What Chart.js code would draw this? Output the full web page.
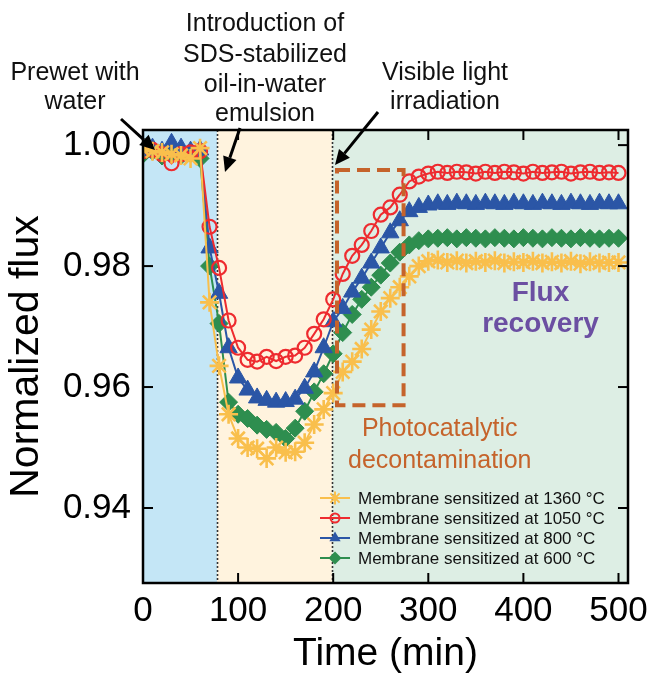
<!DOCTYPE html>
<html><head><meta charset="utf-8">
<script src="https://cdn.jsdelivr.net/npm/chart.js@4.4.0/dist/chart.umd.min.js"></script>
<style>html,body{margin:0;padding:0;background:#fff;}</style>
</head><body>
<canvas id="c" width="660" height="692"></canvas>
<script>
// ---------- data ----------
const times = [0,10,20,30,40,50,60,70,80,90,100,110,120,130,140,150,160,170,180,190,200,210,220,230,240,250,260,270,280,290,300,310,320,330,340,350,360,370,380,390,400,410,420,430,440,450,460,470,480,490,500];
const flux1360 = [0.9993,0.9990,0.9988,0.9985,0.9983,0.9978,0.9995,0.9740,0.9635,0.9555,0.9515,0.9500,0.9498,0.9482,0.9500,0.9492,0.9493,0.9508,0.9538,0.9563,0.9590,0.9625,0.9642,0.9663,0.9695,0.9725,0.9747,0.9765,0.9783,0.9800,0.9808,0.9810,0.9806,0.9809,0.9805,0.9808,0.9806,0.9809,0.9805,0.9807,0.9806,0.9808,0.9805,0.9807,0.9805,0.9808,0.9804,0.9807,0.9805,0.9806,0.9806];
const flux1050 = [0.9990,0.9992,0.9985,0.9970,0.9985,0.9988,0.9990,0.9865,0.9797,0.9710,0.9665,0.9645,0.9642,0.9650,0.9643,0.9650,0.9652,0.9665,0.9688,0.9712,0.9745,0.9787,0.9817,0.9835,0.9858,0.9885,0.9897,0.9918,0.9940,0.9948,0.9953,0.9956,0.9954,0.9956,0.9955,0.9953,0.9956,0.9954,0.9956,0.9955,0.9953,0.9956,0.9954,0.9955,0.9956,0.9953,0.9955,0.9956,0.9954,0.9955,0.9954];
const flux800 = [0.9990,0.9995,0.9990,1.0003,0.9995,0.9990,0.9992,0.9830,0.9755,0.9665,0.9615,0.9595,0.9582,0.9578,0.9575,0.9576,0.9580,0.9598,0.9625,0.9665,0.9708,0.9730,0.9757,0.9780,0.9805,0.9830,0.9855,0.9875,0.9890,0.9897,0.9901,0.9903,0.9902,0.9904,0.9903,0.9902,0.9904,0.9903,0.9902,0.9904,0.9903,0.9902,0.9904,0.9903,0.9902,0.9904,0.9903,0.9902,0.9904,0.9903,0.9903];
const flux600 = [0.9985,0.9990,0.9982,0.9988,0.9983,0.9986,0.9978,0.9800,0.9705,0.9575,0.9555,0.9548,0.9537,0.9530,0.9525,0.9515,0.9532,0.9560,0.9592,0.9622,0.9655,0.9690,0.9720,0.9745,0.9765,0.9785,0.9805,0.9823,0.9835,0.9842,0.9845,0.9846,0.9847,0.9845,0.9847,0.9846,0.9845,0.9847,0.9846,0.9845,0.9847,0.9846,0.9845,0.9847,0.9846,0.9845,0.9847,0.9846,0.9845,0.9846,0.9846];
const seriesLabels = ['Membrane sensitized at 1360 °C','Membrane sensitized at 1050 °C','Membrane sensitized at 800 °C','Membrane sensitized at 600 °C'];
const xTickValues = [0,100,200,300,400,500];
const yTickValues = [0.94,0.96,0.98,1.00];
const phaseBounds = [0,78,199,510];   // prewet | emulsion | light
const boxX = [204,274];                 // photocatalytic decontamination window
const boxY = [0.9570,0.9959];

// ---------- styles ----------
const FONT = '"Liberation Sans", Arial, Helvetica, sans-serif';
const colors = ['#F9BF4C','#EE2B2F','#2B56A6','#2E8E4F'];
const styles = [
  {pointStyle:'star', radius:9.5, fill:false, bw:2.6},
  {pointStyle:'circle', radius:7, fill:false, bw:2.2},
  {pointStyle:'triangle', radius:10, fill:true, bw:1},
  {pointStyle:'rectRot', radius:9, fill:true, bw:1}
];
const phaseColors = ['#C4E6F6','#FFF3DE','#DDEEE4'];

const allSeries = [flux1360, flux1050, flux800, flux600];
const datasets = allSeries.map((s,i)=>({
  label: seriesLabels[i],
  data: times.map((t,k)=>({x:t,y:s[k]})),
  borderColor: colors[i],
  backgroundColor: styles[i].fill ? colors[i] : 'rgba(0,0,0,0)',
  pointBorderColor: colors[i],
  pointBackgroundColor: styles[i].fill ? colors[i] : 'rgba(0,0,0,0)',
  pointStyle: styles[i].pointStyle,
  pointRadius: styles[i].radius,
  pointBorderWidth: styles[i].bw,
  borderWidth: 2,
  tension: 0,
  fill: false
}));

function drawMarker(ctx, style, x, y, r, color, bw){
  ctx.save();
  ctx.strokeStyle = color; ctx.fillStyle = color; ctx.lineWidth = bw;
  ctx.beginPath();
  if(style==='circle'){ ctx.arc(x,y,r,0,Math.PI*2); ctx.stroke(); }
  else if(style==='triangle'){
    ctx.moveTo(x, y-r); ctx.lineTo(x+r*0.866, y+r*0.5); ctx.lineTo(x-r*0.866, y+r*0.5); ctx.closePath(); ctx.fill();
  } else if(style==='rectRot'){
    ctx.moveTo(x,y-r); ctx.lineTo(x+r,y); ctx.lineTo(x,y+r); ctx.lineTo(x-r,y); ctx.closePath(); ctx.fill();
  } else if(style==='star'){
    for(let a=0;a<4;a++){ const ang=a*Math.PI/4; ctx.moveTo(x-Math.cos(ang)*r,y-Math.sin(ang)*r); ctx.lineTo(x+Math.cos(ang)*r,y+Math.sin(ang)*r);} ctx.stroke();
  }
  ctx.restore();
}

function arrow(ctx, x0,y0,x1,y1){
  const ang = Math.atan2(y1-y0,x1-x0), hl=15, hw=7;
  const bx = x1 - Math.cos(ang)*hl, by = y1 - Math.sin(ang)*hl;
  ctx.save();
  ctx.strokeStyle='#000'; ctx.fillStyle='#000'; ctx.lineWidth=3;
  ctx.beginPath(); ctx.moveTo(x0,y0); ctx.lineTo(bx,by); ctx.stroke();
  ctx.beginPath(); ctx.moveTo(x1,y1);
  ctx.lineTo(bx - Math.sin(ang)*hw, by + Math.cos(ang)*hw);
  ctx.lineTo(bx + Math.sin(ang)*hw, by - Math.cos(ang)*hw);
  ctx.closePath(); ctx.fill();
  ctx.restore();
}

const decor = {
  id:'decor',
  beforeDatasetsDraw(chart){
    const {ctx, chartArea:a, scales:{x,y}} = chart;
    ctx.save();
    for(let i=0;i<3;i++){
      const x0=x.getPixelForValue(phaseBounds[i]), x1=x.getPixelForValue(phaseBounds[i+1]);
      ctx.fillStyle=phaseColors[i]; ctx.fillRect(x0,a.top,x1-x0,a.bottom-a.top);
    }
    ctx.strokeStyle='#333'; ctx.lineWidth=1.6; ctx.setLineDash([2,2]);
    [phaseBounds[1],phaseBounds[2]].forEach(v=>{
      const px=Math.round(x.getPixelForValue(v))+0.5;
      ctx.beginPath(); ctx.moveTo(px,a.top); ctx.lineTo(px,a.bottom); ctx.stroke();
    });
    ctx.setLineDash([]);
    // inside texts
    ctx.textAlign='center'; ctx.textBaseline='middle';
    ctx.fillStyle='#C5632B'; ctx.font='25px '+FONT;
    ctx.fillText('Photocatalytic', x.getPixelForValue(312), y.getPixelForValue(0.9530));
    ctx.fillText('decontamination', x.getPixelForValue(312), y.getPixelForValue(0.9477));
    ctx.fillStyle='#6B4FA2'; ctx.font='bold 28px '+FONT;
    ctx.fillText('Flux', x.getPixelForValue(418), y.getPixelForValue(0.9755));
    ctx.fillText('recovery', x.getPixelForValue(418), y.getPixelForValue(0.9703));
    ctx.restore();
  },
  afterDatasetsDraw(chart){
    const {ctx, chartArea:a, scales:{x,y}} = chart;
    ctx.save();
    // dashed box
    ctx.strokeStyle='#C5632B'; ctx.lineWidth=4; ctx.setLineDash([13,7]);
    const bx0=x.getPixelForValue(boxX[0]), bx1=x.getPixelForValue(boxX[1]);
    const by0=y.getPixelForValue(boxY[1]), by1=y.getPixelForValue(boxY[0]);
    ctx.strokeRect(bx0,by0,bx1-bx0,by1-by0);
    ctx.setLineDash([]);
    // frame
    ctx.strokeStyle='#000'; ctx.lineWidth=2.5;
    ctx.strokeRect(a.left,a.top,a.right-a.left,a.bottom-a.top);
    // inward ticks
    ctx.lineWidth=2; const tl=10;
    xTickValues.slice(1).forEach(v=>{
      const px=x.getPixelForValue(v);
      ctx.beginPath(); ctx.moveTo(px,a.bottom); ctx.lineTo(px,a.bottom-tl); ctx.stroke();
      ctx.beginPath(); ctx.moveTo(px,a.top); ctx.lineTo(px,a.top+tl); ctx.stroke();
    });
    yTickValues.forEach(v=>{
      const py=y.getPixelForValue(v);
      ctx.beginPath(); ctx.moveTo(a.left,py); ctx.lineTo(a.left+tl,py); ctx.stroke();
      ctx.beginPath(); ctx.moveTo(a.right,py); ctx.lineTo(a.right-tl,py); ctx.stroke();
    });
    // legend
    ctx.font='17px '+FONT; ctx.textAlign='left'; ctx.textBaseline='middle';
    const ly0=498, ldy=20, lx=320;
    chart.data.datasets.forEach((ds,i)=>{
      const ly=ly0+i*ldy;
      ctx.strokeStyle=colors[i]; ctx.lineWidth=2;
      ctx.beginPath(); ctx.moveTo(lx,ly); ctx.lineTo(lx+30,ly); ctx.stroke();
      drawMarker(ctx, styles[i].pointStyle, lx+15, ly, styles[i].pointStyle==='circle'?4.5:6.5, colors[i], 2);
      ctx.fillStyle='#111'; ctx.fillText(ds.label, lx+38, ly+1);
    });
    ctx.restore();
  },
  afterDraw(chart){
    const ctx=chart.ctx;
    ctx.save();
    ctx.fillStyle='#111'; ctx.font='25px '+FONT; ctx.textAlign='center'; ctx.textBaseline='middle';
    [['Introduction of',265,24],['SDS-stabilized',265,55],['oil-in-water',265,85],['emulsion',265,114],
     ['Prewet with',75,73],['water',75,102],['Visible light',445,73],['irradiation',445,102]]
     .forEach(([t,px,py])=>ctx.fillText(t,px,py));
    arrow(ctx,121,119,155,150);
    arrow(ctx,240,128,225,172);
    arrow(ctx,378,112,335,165);
    ctx.restore();
  }
};

new Chart(document.getElementById('c'),{
  type:'line',
  data:{datasets},
  options:{
    responsive:false, animation:false, devicePixelRatio:1,
    layout:{padding:{left:0,top:130,right:32,bottom:14}},
    plugins:{legend:{display:false}, tooltip:{enabled:false}},
    scales:{
      x:{type:'linear', min:0, max:510,
         afterBuildTicks(s){ s.ticks = xTickValues.map(v=>({value:v})); },
         afterFit(s){ s.height = 95; },
         grid:{display:false, drawTicks:false}, border:{display:false},
         ticks:{color:'#000', font:{family:FONT,size:35}, padding:7, maxRotation:0, callback:v=>String(v)},
         title:{display:true, text:'Time (min)', color:'#000', font:{family:FONT,size:39}, padding:{top:2,bottom:0}}
      },
      y:{type:'linear', min:0.9276, max:1.0025,
         afterBuildTicks(s){ s.ticks = yTickValues.map(v=>({value:v})); },
         afterFit(s){ s.width = 143; },
         grid:{display:false, drawTicks:false}, border:{display:false},
         ticks:{color:'#000', font:{family:FONT,size:35}, padding:12, callback:v=>Number(v).toFixed(2)},
         title:{display:true, text:'Normalized flux', color:'#000', font:{family:FONT,size:41}, padding:{top:2,bottom:0}}
      }
    }
  },
  plugins:[decor]
});
</script>
</body></html>
